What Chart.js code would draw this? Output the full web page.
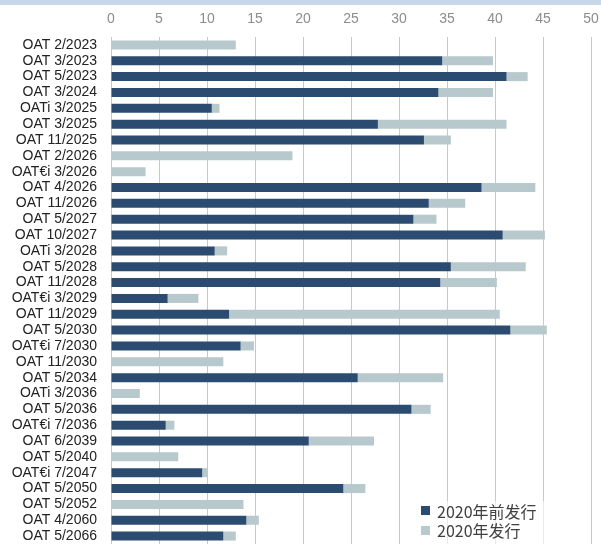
<!DOCTYPE html>
<html>
<head>
<meta charset="utf-8">
<script src="https://cdn.jsdelivr.net/npm/chart.js@4"></script>
<style>
  body { margin: 0; background: #fff; }
  #wrap { position: relative; width: 601px; height: 544px; overflow: hidden; }
  #band { position: absolute; left: 0; top: 0; width: 601px; height: 5px; background: #c6d7e9; }
  #legend { position: absolute; left: 414px; top: 501px; width: 140px; height: 43px; background: rgba(255,255,255,0.6);
            font-family: "Noto Sans CJK SC", sans-serif; font-size: 16px; color: #404040; }
  #legend div { display: flex; align-items: center; height: 19.5px; padding-left: 7px; }
  #legend span.box { display: inline-block; width: 9px; height: 9px; margin-right: 7px; }
</style>
</head>
<body>
<div id="wrap">
  <canvas id="chart" width="601" height="544"></canvas>
  <div id="band"></div>
  <div id="legend"></div>
</div>
<script>
const bonds = ['OAT 2/2023', 'OAT 3/2023', 'OAT 5/2023', 'OAT 3/2024', 'OATi 3/2025', 'OAT 3/2025',
  'OAT 11/2025', 'OAT 2/2026', 'OAT€i 3/2026', 'OAT 4/2026', 'OAT 11/2026', 'OAT 5/2027',
  'OAT 10/2027', 'OATi 3/2028', 'OAT 5/2028', 'OAT 11/2028', 'OAT€i 3/2029', 'OAT 11/2029',
  'OAT 5/2030', 'OAT€i 7/2030', 'OAT 11/2030', 'OAT 5/2034', 'OATi 3/2036', 'OAT 5/2036',
  'OAT€i 7/2036', 'OAT 6/2039', 'OAT 5/2040', 'OAT€i 7/2047', 'OAT 5/2050', 'OAT 5/2052',
  'OAT 4/2060', 'OAT 5/2066'];

// issued before 2020
const before2020 = [0, 34.5, 41.2, 34.1, 10.5, 27.8, 32.6, 0, 0, 38.6, 33.1, 31.5,
  40.8, 10.8, 35.4, 34.3, 5.9, 12.3, 41.6, 13.5, 0, 25.7, 0, 31.3,
  5.7, 20.6, 0, 9.5, 24.2, 0, 14.1, 11.7];

// issued in 2020
const in2020 = [13.0, 5.3, 2.2, 5.7, 0.8, 13.4, 2.8, 18.9, 3.6, 5.6, 3.8, 2.4,
  4.4, 1.3, 7.8, 5.9, 3.2, 28.2, 3.8, 1.4, 11.7, 8.9, 3.0, 2.0,
  0.9, 6.8, 7.0, 0.6, 2.3, 13.8, 1.3, 1.3];

const seriesNames = ['2020年前发行', '2020年发行'];
const xTicks = [0, 5, 10, 15, 20, 25, 30, 35, 40, 45, 50];

const colors = ['#2c4b71', '#b8c9cd'];

const datasets = [before2020, in2020].map((vals, i) => ({
    label: seriesNames[i],
    data: vals,
    backgroundColor: colors[i],
    borderWidth: 0,
    categoryPercentage: 1,
    barPercentage: 0.57,
}));

new Chart(document.getElementById('chart'), {
    type: 'bar',
    data: { labels: bonds, datasets },
    options: {
        indexAxis: 'y',
        responsive: false,
        animation: false,
        layout: { padding: { top: 0, right: 10, bottom: 0, left: 0 } },
        plugins: { legend: { display: false }, tooltip: { enabled: false } },
        scales: {
            x: {
                position: 'top',
                stacked: true,
                min: 0, max: 50,
                afterBuildTicks: axis => { axis.ticks = xTicks.map(v => ({ value: v })); },
                afterFit: axis => { axis.height = 37; axis.paddingLeft = 0; axis.paddingRight = 0; },
                grid: { color: '#c8c8c8', lineWidth: 1, drawTicks: false },
                border: { display: false },
                ticks: { color: '#8c8c8c', padding: 9, font: { family: 'Liberation Sans', size: 14 } },
            },
            y: {
                stacked: true,
                afterFit: axis => { axis.width = 111; axis.paddingTop = 0; axis.paddingBottom = 0; },
                grid: { display: false },
                border: { display: false },
                ticks: { color: '#222', padding: 6, autoSkip: false, font: { family: 'Liberation Sans', size: 14 } },
            },
        },
    },
});

document.getElementById('legend').innerHTML = seriesNames.map((n, i) =>
    `<div><span class="box" style="background:${colors[i]}"></span>${n}</div>`).join('');
</script>
</body>
</html>
